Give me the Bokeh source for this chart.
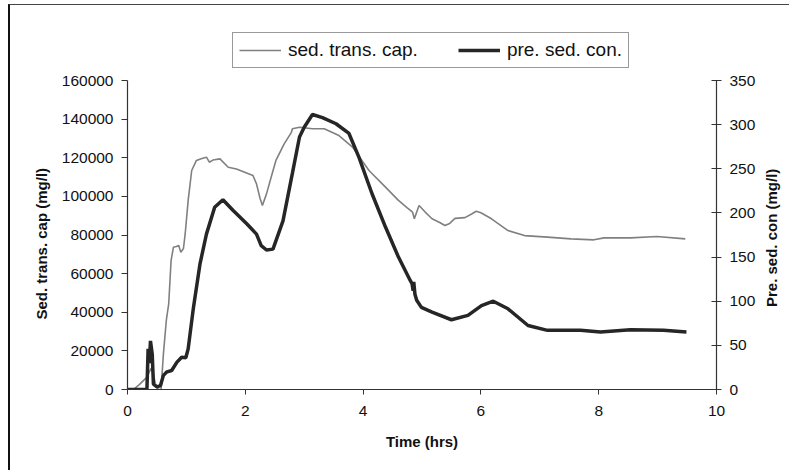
import math
from bokeh.plotting import figure
from bokeh.models import Range1d, LinearAxis, Legend, LegendItem, FixedTicker
from bokeh.embed import file_html
from bokeh.resources import INLINE

# sed. trans. cap. (left axis, mg/l)
cap_t = [0.0, 0.10, 0.20, 0.33, 0.40, 0.44, 0.48, 0.52, 0.57, 0.61, 0.66, 0.70, 0.74, 0.78,
         0.83, 0.87, 0.905, 0.95, 0.98, 1.03, 1.09, 1.17, 1.25, 1.34, 1.39, 1.45, 1.57, 1.71,
         1.85, 1.99, 2.13, 2.19, 2.25, 2.29, 2.36, 2.44, 2.52, 2.66, 2.78, 2.80, 2.92, 3.14,
         3.34, 3.59, 3.82, 4.10, 4.38, 4.60, 4.75, 4.84, 4.87, 4.90, 4.95, 5.05, 5.17, 5.30,
         5.39, 5.47, 5.56, 5.73, 5.85, 5.92, 6.00, 6.18, 6.46, 6.74, 7.13, 7.53, 7.92, 8.09,
         8.54, 8.99, 9.47]
cap_v = [0, 0, 2500, 6400, 11000, 8000, 2000, 0, 0, 18600, 36000, 44500, 66800, 73700,
         74000, 74600, 71000, 73000, 80800, 97900, 113400, 118600, 119500, 120300, 117700,
         118800, 119400, 115100, 114200, 112500, 110800, 106500, 99000, 95300, 101300,
         110000, 118600, 127200, 133000, 135000, 135800, 135000, 135000, 131500, 125500,
         113400, 104800, 97900, 94000, 91800, 88400, 91000, 95300, 92000, 88400, 86500,
         84900, 86000, 88600, 89000, 91000, 92300, 91500, 88400, 82300, 79700, 78900,
         78000, 77500, 78500, 78500, 79200, 78000]

# pre. sed. con. (right axis, mg/l)
con_t = [0.0, 0.33, 0.35, 0.37, 0.39, 0.42, 0.44, 0.50, 0.56, 0.61, 0.67, 0.75, 0.84, 0.92,
         0.99, 1.03, 1.12, 1.23, 1.34, 1.48, 1.62, 1.79, 2.02, 2.19, 2.27, 2.36, 2.47, 2.64,
         2.80, 2.92, 3.00, 3.14, 3.31, 3.54, 3.76, 3.93, 4.15, 4.38, 4.60, 4.80, 4.83, 4.85,
         4.86, 4.88, 4.91, 4.99, 5.17, 5.50, 5.78, 6.01, 6.21, 6.46, 6.80, 7.13, 7.69, 8.03,
         8.54, 9.10, 9.49]
con_v = [0, 0, 46, 30, 55, 40, 6, 3, 4.5, 16, 20, 21.5, 31, 36.6, 36, 46, 93, 142, 176,
         206.5, 215, 203, 188, 176, 163, 158, 159, 191, 245, 286, 297, 311.5, 308, 301,
         290, 263, 222, 184, 150, 123.5, 120, 112, 122, 108, 101, 93, 87.6, 79, 84, 95,
         100, 91.4, 72.5, 67, 67, 65, 67.6, 67, 65]

x_ticks = [0, 2, 4, 6, 8, 10]
left_ticks = [0, 20000, 40000, 60000, 80000, 100000, 120000, 140000, 160000]
right_ticks = [0, 50, 100, 150, 200, 250, 300, 350]

FONT = "Liberation Sans"
PAD_L = "\u2003\u2003\u2003\u2003\u2002"
PAD_R = "\u2003\u2003\u2003\u2003\u2003\u2002"

# frame extends above the axes' top (axes limited with bounds) so the legend fits inside it
EXT = 359 / 309
p = figure(width=781, height=466, output_backend="svg", toolbar_location=None,
           x_range=Range1d(0, 10), y_range=Range1d(0, 160000 * EXT),
           min_border_left=117, min_border_right=71, min_border_top=25, min_border_bottom=82)
p.styles = {"margin-left": "8px", "margin-top": "4px",
            "border-left": "2px solid #111111", "border-top": "1px solid #444444"}
p.extra_y_ranges = {"con": Range1d(0, 350 * EXT)}
p.grid.visible = False
p.outline_line_color = None
p.background_fill_color = "white"
p.border_fill_color = "white"

r1 = p.line(cap_t, cap_v, line_color="#808080", line_width=1.6)
r2 = p.line(con_t, con_v, line_color="#262626", line_width=3.5, y_range_name="con")

ax = p.xaxis[0]
ax.ticker = FixedTicker(ticks=x_ticks)
ax.axis_label = "Time (hrs)"
ay = p.yaxis[0]
ay.ticker = FixedTicker(ticks=left_ticks)
ay.axis_label = "Sed. trans. cap (mg/l)" + PAD_L
ay.bounds = (0, 160000)

ar = LinearAxis(y_range_name="con", ticker=FixedTicker(ticks=right_ticks), bounds=(0, 350))
p.add_layout(ar, "right")

right_label = "Pre. sed. con (mg/l)"
aligned = False
if "axis_label_align" in ar.properties():
    for opt in ("start", "left"):
        try:
            ar.axis_label_align = opt
            aligned = True
            break
        except Exception:
            pass
ar.axis_label = (PAD_R + right_label) if aligned else right_label

for a in [ax, ay, ar]:
    a.axis_line_color = "#333333"
    a.axis_line_width = 1.2
    a.major_tick_line_color = "#333333"
    a.minor_tick_line_color = None
    a.major_label_text_font = FONT
    a.major_label_text_font_size = "15.5px"
    a.major_label_text_color = "#111111"
    a.axis_label_text_font = FONT
    a.axis_label_text_font_size = "15px"
    a.axis_label_text_font_style = "bold"
    a.axis_label_text_color = "#111111"
    a.major_label_standoff = 8
ax.major_tick_in = 0
ax.major_tick_out = 5
ax.major_label_standoff = 11
ax.axis_label_standoff = 14
ay.major_tick_in = 0
ay.major_tick_out = 6
ay.axis_label_standoff = 9
ar.major_tick_in = 5
ar.major_tick_out = 5
ar.axis_label_standoff = 13
ar.axis_label_orientation = math.pi / 2
ay.formatter.use_scientific = False

legend = Legend(items=[LegendItem(label="sed. trans. cap.", renderers=[r1]),
                       LegendItem(label="pre. sed. con.", renderers=[r2])],
                orientation="horizontal", location=(105, 321))
legend.label_text_font = FONT
legend.label_text_font_size = "19px"
legend.label_text_color = "#111111"
legend.border_line_color = "#333333"
legend.border_line_width = 1
legend.background_fill_color = "white"
legend.background_fill_alpha = 1
legend.glyph_width = 42
legend.glyph_height = 14
legend.padding = 6
legend.margin = 0
legend.spacing = 40
legend.label_standoff = 7
p.add_layout(legend, "center")

open("out.html", "w").write(file_html(p, INLINE))
